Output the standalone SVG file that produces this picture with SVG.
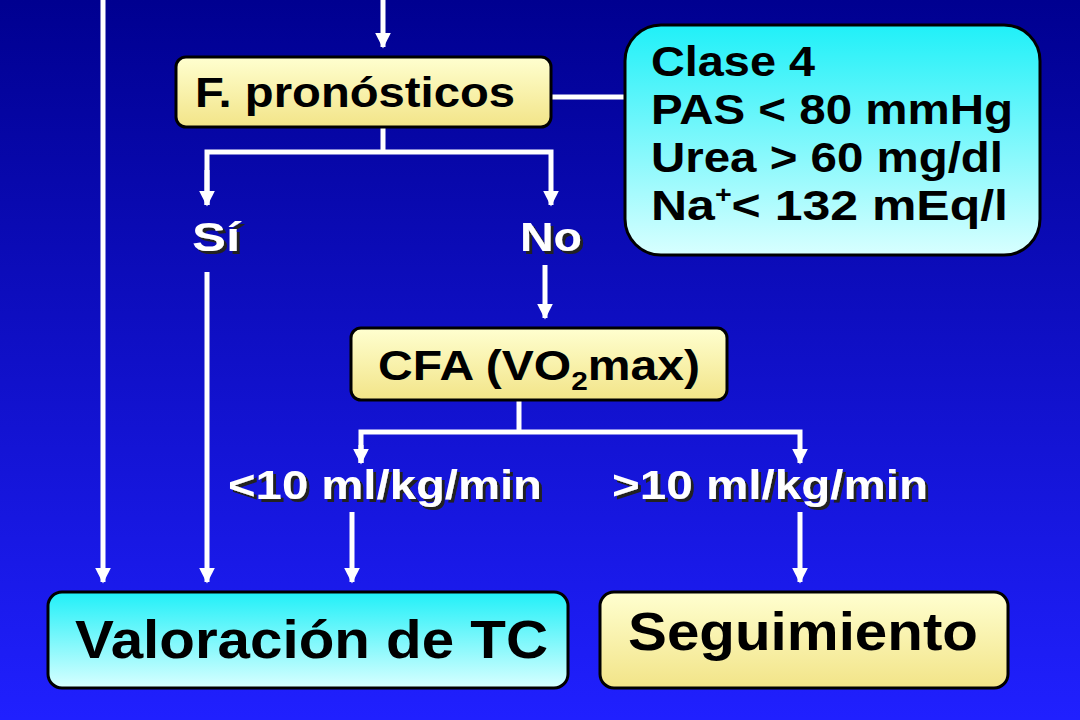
<svg xmlns="http://www.w3.org/2000/svg" width="1080" height="720" viewBox="0 0 1080 720">
<defs>
<linearGradient id="bg" x1="0" y1="0" x2="0" y2="1"><stop offset="0" stop-color="#000090"/><stop offset="1" stop-color="#2020ff"/></linearGradient>
<linearGradient id="yel" x1="0" y1="0" x2="0" y2="1"><stop offset="0" stop-color="#ffffd0"/><stop offset="1" stop-color="#f2e488"/></linearGradient>
<linearGradient id="cy" x1="0" y1="0" x2="0" y2="1"><stop offset="0" stop-color="#20f0f8"/><stop offset="1" stop-color="#d8ffff"/></linearGradient>
<marker id="ah" viewBox="0 0 10 10" refX="9" refY="5" markerWidth="3.2" markerHeight="3.6" orient="auto" markerUnits="strokeWidth"><path d="M0,0 L10,5 L0,10 z" fill="#fff"/></marker>
<filter id="ds" x="-10%" y="-20%" width="130%" height="150%"><feDropShadow dx="3" dy="3" stdDeviation="0" flood-color="#222"/></filter>
</defs>
<style>
.ln{stroke:#fff;stroke-width:5;fill:none}
.box{stroke:#000;stroke-width:3}
.t{font-family:"Liberation Sans",Arial,sans-serif;font-weight:bold;fill:#000}
.w{font-family:"Liberation Sans",Arial,sans-serif;font-weight:bold;fill:#fff;font-size:40px;filter:url(#ds)}
</style>
<rect width="1080" height="720" fill="url(#bg)"/>
<g id="connectors">
<line class="ln" x1="103" y1="0" x2="103" y2="582" marker-end="url(#ah)"/>
<line class="ln" x1="383" y1="0" x2="383" y2="47" marker-end="url(#ah)"/>
<line class="ln" x1="551" y1="97" x2="626" y2="97"/>
<polyline class="ln" points="383,127 383,152"/>
<polyline class="ln" points="207,205 207,152 551,152 551,205" marker-end="url(#ah)"/>
<line class="ln" x1="207" y1="170" x2="207" y2="205" marker-end="url(#ah)"/>
<line class="ln" x1="207" y1="272" x2="207" y2="582" marker-end="url(#ah)"/>
<line class="ln" x1="545" y1="265" x2="545" y2="318" marker-end="url(#ah)"/>
<polyline class="ln" points="519,400 519,432"/>
<polyline class="ln" points="361,463 361,432 800,432 800,463" marker-end="url(#ah)"/>
<line class="ln" x1="361" y1="445" x2="361" y2="463" marker-end="url(#ah)"/>
<line class="ln" x1="352" y1="512" x2="352" y2="582" marker-end="url(#ah)"/>
<line class="ln" x1="800" y1="512" x2="800" y2="582" marker-end="url(#ah)"/>
</g>
<g id="pronosticos">
<rect class="box" x="176" y="57" width="375" height="70" rx="10" fill="url(#yel)"/>
<text class="t" x="195" y="107" font-size="42" textLength="320" lengthAdjust="spacingAndGlyphs">F. pronósticos</text>
</g>
<g id="clase4">
<rect class="box" x="625" y="25" width="415" height="230" rx="36" fill="url(#cy)"/>
<text class="t" font-size="42" x="651" y="76" textLength="164" lengthAdjust="spacingAndGlyphs">Clase 4</text>
<text class="t" font-size="42" x="651" y="124" textLength="362" lengthAdjust="spacingAndGlyphs">PAS &lt; 80 mmHg</text>
<text class="t" font-size="42" x="651" y="172" textLength="352" lengthAdjust="spacingAndGlyphs">Urea &gt; 60 mg/dl</text>
<text class="t" font-size="42" x="651" y="220" textLength="357" lengthAdjust="spacingAndGlyphs">Na<tspan font-size="24" dy="-17">+</tspan><tspan dy="17">&lt; 132 mEq/l</tspan></text>
</g>
<g id="si"><text class="w" x="192" y="251" textLength="48" lengthAdjust="spacingAndGlyphs">Sí</text></g>
<g id="no"><text class="w" x="520" y="251" textLength="62" lengthAdjust="spacingAndGlyphs">No</text></g>
<g id="cfa">
<rect class="box" x="351" y="328" width="376" height="72" rx="10" fill="url(#yel)"/>
<text class="t" x="378" y="380" font-size="42" textLength="322" lengthAdjust="spacingAndGlyphs">CFA (VO<tspan font-size="26" dy="10">2</tspan><tspan dy="-10">max)</tspan></text>
</g>
<g id="menos10"><text class="w" x="228" y="499" textLength="314" lengthAdjust="spacingAndGlyphs">&lt;10 ml/kg/min</text></g>
<g id="mas10"><text class="w" x="612" y="499" textLength="316" lengthAdjust="spacingAndGlyphs">&gt;10 ml/kg/min</text></g>
<g id="valoracion">
<rect class="box" x="48" y="592" width="520" height="96" rx="14" fill="url(#cy)"/>
<text class="t" x="75" y="658" font-size="54" textLength="473" lengthAdjust="spacingAndGlyphs">Valoración de TC</text>
</g>
<g id="seguimiento">
<rect class="box" x="600" y="592" width="408" height="96" rx="14" fill="url(#yel)"/>
<text class="t" x="628" y="650" font-size="54" textLength="350" lengthAdjust="spacingAndGlyphs">Seguimiento</text>
</g>
</svg>
